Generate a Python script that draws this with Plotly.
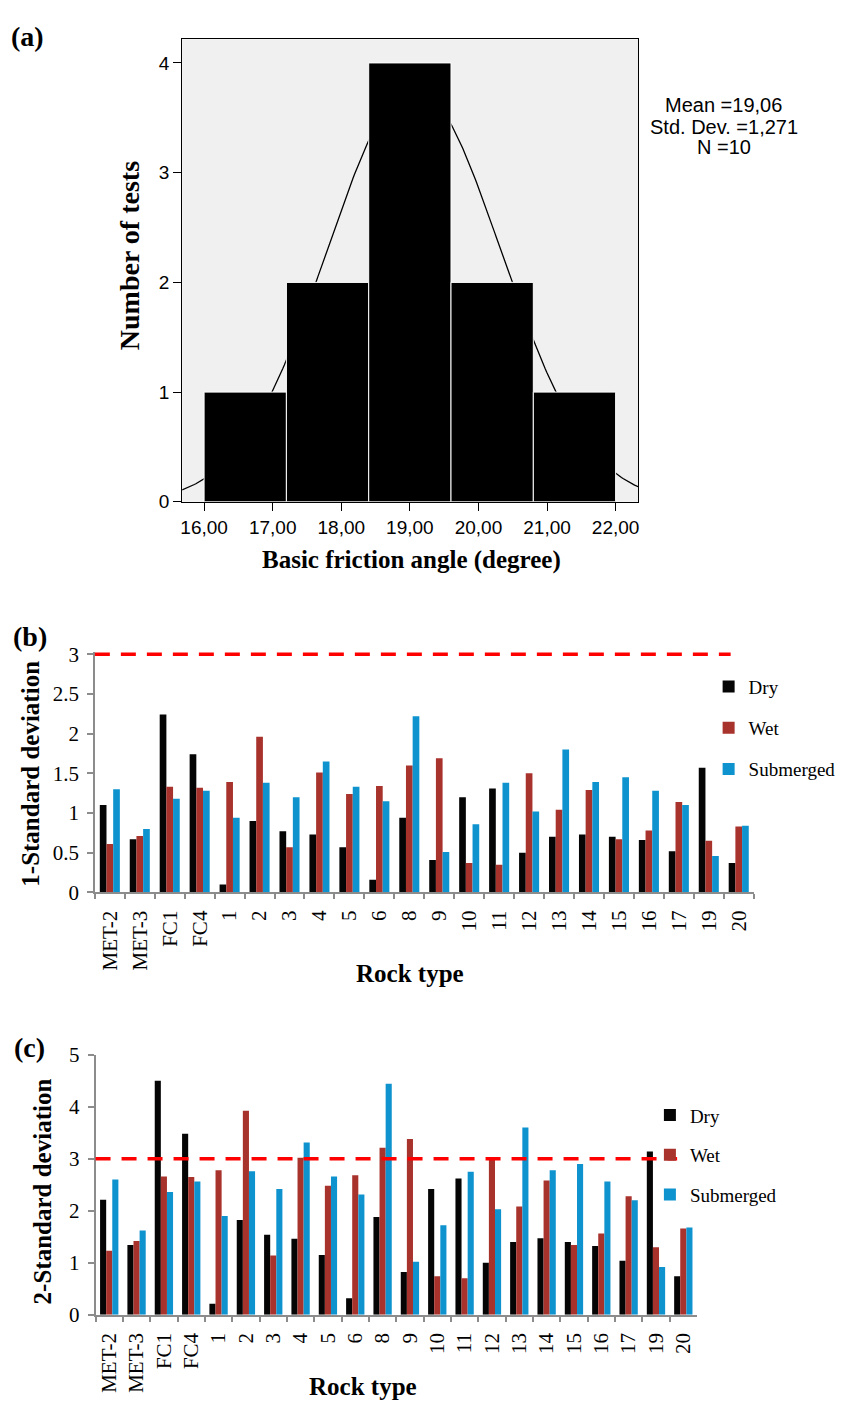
import numpy as np
import plotly.graph_objects as go

# ---------------- data ----------------
# Panel (a): histogram of basic friction angle
bin_edges = [16.0, 17.2, 18.4, 19.6, 20.8, 22.0]
bin_counts = [1, 2, 4, 2, 1]
fit_mean = 19.06
fit_std = 1.271
n_tests = 10
a_xtick_vals = [16, 17, 18, 19, 20, 21, 22]
a_xtick_text = ["16,00", "17,00", "18,00", "19,00", "20,00", "21,00", "22,00"]
a_ytick_vals = [0, 1, 2, 3, 4]
stats_lines = ["Mean =19,06", "Std. Dev. =1,271", "N =10"]

# Panels (b) and (c)
rock_types = ["MET-2", "MET-3", "FC1", "FC4", "1", "2", "3", "4", "5", "6", "8",
              "9", "10", "11", "12", "13", "14", "15", "16", "17", "19", "20"]
series_names = ["Dry", "Wet", "Submerged"]
sd1_dry = [1.10, 0.67, 2.24, 1.74, 0.10, 0.90, 0.77, 0.73, 0.57, 0.16, 0.94,
           0.41, 1.20, 1.31, 0.50, 0.70, 0.73, 0.70, 0.66, 0.52, 1.57, 0.37]
sd1_wet = [0.61, 0.71, 1.33, 1.32, 1.39, 1.96, 0.57, 1.51, 1.24, 1.34, 1.60,
           1.69, 0.37, 0.35, 1.50, 1.04, 1.29, 0.67, 0.78, 1.14, 0.65, 0.83]
sd1_sub = [1.30, 0.80, 1.18, 1.28, 0.94, 1.38, 1.20, 1.65, 1.33, 1.15, 2.22,
           0.51, 0.86, 1.38, 1.02, 1.80, 1.39, 1.45, 1.28, 1.10, 0.46, 0.84]
sd2_dry = [2.21, 1.34, 4.50, 3.48, 0.21, 1.82, 1.54, 1.46, 1.15, 0.32, 1.88,
           0.82, 2.42, 2.62, 1.00, 1.40, 1.47, 1.40, 1.32, 1.04, 3.14, 0.74]
sd2_wet = [1.23, 1.42, 2.66, 2.65, 2.78, 3.92, 1.14, 3.02, 2.48, 2.68, 3.21,
           3.38, 0.74, 0.70, 3.00, 2.08, 2.58, 1.34, 1.56, 2.28, 1.30, 1.66]
sd2_sub = [2.60, 1.62, 2.36, 2.56, 1.90, 2.76, 2.42, 3.31, 2.66, 2.31, 4.44,
           1.02, 1.72, 2.75, 2.03, 3.60, 2.78, 2.90, 2.56, 2.20, 0.92, 1.68]
threshold = 3

# ---------------- styling helpers ----------------
W, H = 841, 1412
def px(x):
    return x / W
def py(y):
    return 1 - y / H

SERIF = "Liberation Serif"
SANS = "Liberation Sans"
colors = ["#050505", "#a8322c", "#0e93cf"]

fig = go.Figure()

# Panel (a): normal fit curve (drawn underneath the bars)
edges = np.array(bin_edges)
bw = edges[1] - edges[0]
xc = np.linspace(15.68, 22.33, 300)
yc = n_tests * bw / (fit_std * np.sqrt(2 * np.pi)) * np.exp(-0.5 * ((xc - fit_mean) / fit_std) ** 2)
fig.add_trace(go.Scatter(x=xc, y=yc, mode="lines", line=dict(color="black", width=1.3),
                         xaxis="x", yaxis="y", showlegend=False, hoverinfo="skip"))
centers = (edges[:-1] + edges[1:]) / 2
fig.add_trace(go.Bar(x=centers, y=bin_counts, width=np.diff(edges),
                     marker=dict(color="black", line=dict(color="white", width=1)),
                     xaxis="x4", yaxis="y4", showlegend=False))

# Panels (b) and (c)
for vals, nm, col, grp in zip([sd1_dry, sd1_wet, sd1_sub], series_names, colors, ["b1", "b2", "b3"]):
    fig.add_trace(go.Bar(x=rock_types, y=vals, name=nm, marker=dict(color=col, line=dict(width=0)),
                         xaxis="x2", yaxis="y2", legend="legend", legendgroup=grp))
for vals, nm, col, grp in zip([sd2_dry, sd2_wet, sd2_sub], series_names, colors, ["c1", "c2", "c3"]):
    fig.add_trace(go.Bar(x=rock_types, y=vals, name=nm, marker=dict(color=col, line=dict(width=0)),
                         xaxis="x3", yaxis="y3", legend="legend2", legendgroup=grp))

a_xrange = [15.68, 22.33]
a_yrange = [0, 4.216]
gray = "#8c8c8c"
b_top = 3.03  # tiny headroom so the dashed line at 3 is not clipped

fig.update_layout(
    width=W, height=H, margin=dict(l=0, r=0, t=0, b=0),
    paper_bgcolor="white", plot_bgcolor="white",
    barmode="group", bargap=0.33, bargroupgap=0,
    xaxis=dict(domain=[px(181), px(639.3)], range=a_xrange, anchor="y",
               tickvals=a_xtick_vals, ticktext=a_xtick_text, ticks="outside", ticklen=8,
               tickcolor="black", showline=True, linecolor="black", linewidth=1, mirror=True,
               showgrid=False, zeroline=False, tickfont=dict(family=SANS, size=19, color="black")),
    yaxis=dict(domain=[py(498.3), py(27.7)], range=a_yrange, anchor="x",
               tickvals=a_ytick_vals, ticks="outside", ticklen=8, tickcolor="black",
               showline=True, linecolor="black", linewidth=1, mirror=True,
               showgrid=False, zeroline=False, tickfont=dict(family=SANS, size=19, color="black")),
    xaxis4=dict(overlaying="x", range=a_xrange, visible=False, anchor="y4"),
    yaxis4=dict(overlaying="y", range=a_yrange, visible=False, anchor="x4"),
    xaxis2=dict(domain=[px(93.3), px(755.3)], anchor="y2", type="category",
                showline=True, linecolor=gray, linewidth=1.5, ticks="outside", tickson="boundaries",
                ticklen=5, tickcolor=gray, tickwidth=1.5, tickangle=-90, showgrid=False,
                tickfont=dict(family=SERIF, size=21, color="black"), ticklabelstandoff=8),
    yaxis2=dict(domain=[py(895.7), py(895.7 - b_top * 80.8)], anchor="x2", range=[0, b_top],
                tickvals=[0, 0.5, 1, 1.5, 2, 2.5, 3],
                showline=True, linecolor=gray, linewidth=1.5, ticks="outside", ticklen=6,
                tickcolor=gray, tickwidth=1.5, showgrid=False, zeroline=False,
                tickfont=dict(family=SERIF, size=21, color="black"), ticklabelstandoff=4),
    xaxis3=dict(domain=[px(94), px(698.3)], anchor="y3", type="category",
                showline=True, linecolor=gray, linewidth=1.5, ticks="outside", tickson="boundaries",
                ticklen=5, tickcolor=gray, tickwidth=1.5, tickangle=-90, showgrid=False,
                tickfont=dict(family=SERIF, size=21, color="black"), ticklabelstandoff=8),
    yaxis3=dict(domain=[py(1325.3), py(1060.7)], anchor="x3", range=[0, 5], dtick=1,
                showline=True, linecolor=gray, linewidth=1.5, ticks="outside", ticklen=6,
                tickcolor=gray, tickwidth=1.5, showgrid=False, zeroline=False,
                tickfont=dict(family=SERIF, size=21, color="black"), ticklabelstandoff=4),
    legend=dict(x=px(710), y=py(667), xanchor="left", yanchor="top", bgcolor="rgba(0,0,0,0)",
                font=dict(family=SERIF, size=19, color="black"), tracegroupgap=13.5),
    legend2=dict(x=px(651), y=py(1103), xanchor="left", yanchor="top", bgcolor="rgba(0,0,0,0)",
                 font=dict(family=SERIF, size=19, color="black"), tracegroupgap=12),
)

# grey plotting background of panel (a)
fig.add_shape(type="rect", xref="x domain", yref="y domain", x0=0, x1=1, y0=0, y1=1,
              fillcolor="#f0f0f0", line=dict(width=0), layer="below")

dash_line = dict(color="#ff0000", width=3.5, dash="15px,11px")
fig.add_shape(type="line", xref="x2 domain", yref="y2", x0=0, x1=0.965, y0=threshold, y1=threshold,
              line=dash_line, layer="above")
fig.add_shape(type="line", xref="x3 domain", yref="y3", x0=0, x1=0.967, y0=threshold, y1=threshold,
              line=dash_line, layer="above")

def ann(text, x, y, size, family=SERIF, bold=False, angle=0):
    t = f"<b>{text}</b>" if bold else text
    fig.add_annotation(text=t, x=px(x), y=py(y), xref="paper", yref="paper", showarrow=False,
                       xanchor="center", yanchor="middle", textangle=angle,
                       font=dict(family=family, size=size, color="black"))

ann("(a)", 26, 25, 28, bold=True)
ann("(b)", 28, 635, 28, bold=True)
ann("(c)", 28, 1053, 28, bold=True)
ann("Number of tests", 128, 248, 28, bold=True, angle=-90)
ann("Basic friction angle (degree)", 411, 557, 25, bold=True)
ann("1-Standard deviation", 29, 775, 25, bold=True, angle=-90)
ann("Rock type", 410, 978, 25, bold=True)
ann("2-Standard deviation", 41, 1200, 25, bold=True, angle=-90)
ann("Rock type", 363, 1398, 25, bold=True)
for line, yy in zip(stats_lines, [95, 116.7, 137.3]):
    ann(line, 725, yy, 20, family=SANS)

fig.write_html("out.html")
